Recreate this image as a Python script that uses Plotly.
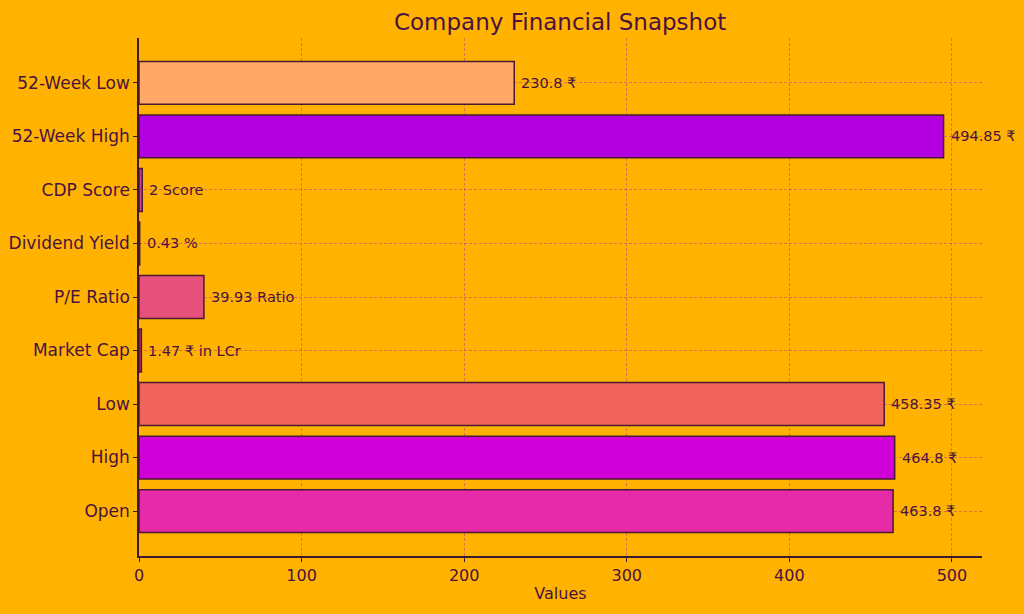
import plotly.graph_objects as go

categories = ["Open", "High", "Low", "Market Cap", "P/E Ratio", "Dividend Yield",
              "CDP Score", "52-Week High", "52-Week Low"]
values = [463.8, 464.8, 458.35, 1.47, 39.93, 0.43, 2, 494.85, 230.8]
units = ["₹", "₹", "₹", "₹ in LCr", "Ratio", "%", "Score", "₹", "₹"]
label_values = ["463.8", "464.8", "458.35", "1.47", "39.93", "0.43", "2", "494.85", "230.8"]
colors = ["#E62AA8", "#D000D8", "#F0645C", "#C0307A", "#E8507C", "#D84890",
          "#C8408A", "#B300E0", "#FFA868"]
x_ticks = [0, 100, 200, 300, 400, 500]

text_color = "#4A1240"
grid_color = "rgba(190,50,140,0.5)"
labels = [f"{v} {u}" for v, u in zip(label_values, units)]

fig = go.Figure()
fig.add_trace(go.Bar(
    y=categories, x=values, orientation="h",
    marker=dict(color=colors, line=dict(color="#4A1A30", width=1.5)),
    width=0.8,
))
for cat, val, lab in zip(categories, values, labels):
    fig.add_annotation(x=val, y=cat, text=lab, showarrow=False,
                       xanchor="left", yanchor="middle", xshift=5,
                       font=dict(size=14.5, color=text_color, family="DejaVu Sans"))

fig.update_layout(
    width=1024, height=614,
    paper_bgcolor="#FFB300", plot_bgcolor="#FFB300",
    margin=dict(l=139, r=42, t=38, b=58),
    title=dict(text="Company Financial Snapshot", x=0.547, xanchor="center",
               y=0.964, yanchor="middle",
               font=dict(size=23, color=text_color, family="DejaVu Sans")),
    font=dict(family="DejaVu Sans", color=text_color, size=16),
    showlegend=False,
)
fig.update_xaxes(
    range=[0, 518.5], tickvals=x_ticks, ticks="outside", ticklen=4,
    tickcolor="#3D1A2A", showline=True, linecolor="#3D1A2A", linewidth=1.5,
    showgrid=True, gridcolor=grid_color, griddash="3px,2px", gridwidth=1,
    zeroline=False, automargin=False,
    title=dict(text="Values", font=dict(size=16, color=text_color), standoff=4),
    tickfont=dict(size=16, color=text_color),
)
fig.update_yaxes(
    range=[-0.84, 8.84], ticks="outside", ticklen=4, tickcolor="#3D1A2A",
    showline=True, linecolor="#3D1A2A", linewidth=1.5,
    showgrid=True, gridcolor=grid_color, griddash="3px,2px", gridwidth=1,
    tickfont=dict(size=17, color=text_color), automargin=False,
    categoryorder="array", categoryarray=categories,
)

fig.write_html("out.html", config={"displayModeBar": False},
               post_script="document.body.style.margin='0';"
                           "document.body.style.background='#FFB300';")
